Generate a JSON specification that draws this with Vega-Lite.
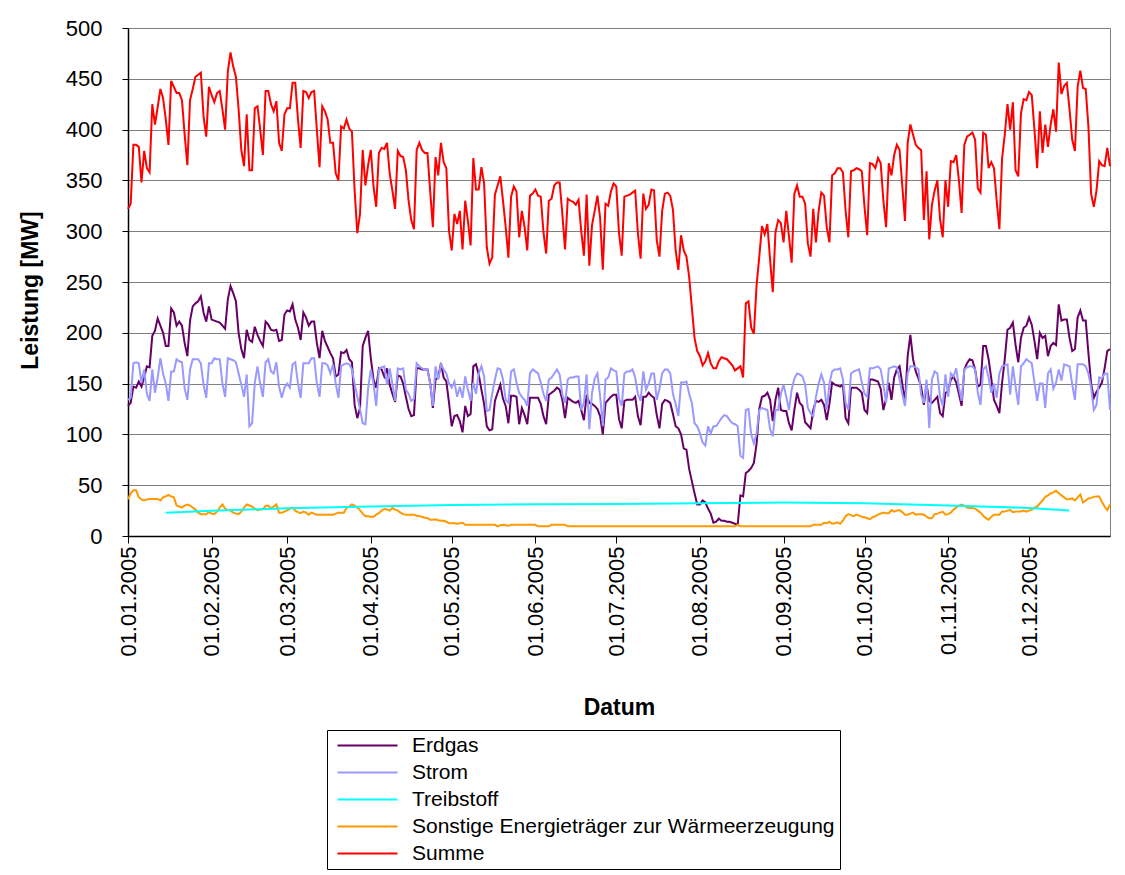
{
"$schema":"https://vega.github.io/schema/vega-lite/v6.json",
"width":982,"height":508,
"autosize":"none",
"padding":{"left":128,"top":28,"right":15,"bottom":339},
"background":"white",
"data":{"values":[
{"t":"2005-01-01","E":128,"S":134,"O":36,"M":322},
{"t":"2005-01-02","E":131,"S":136,"O":42,"M":327},
{"t":"2005-01-03","E":147,"S":170,"O":45,"M":385},
{"t":"2005-01-04","E":146,"S":171,"O":45,"M":385},
{"t":"2005-01-05","E":152,"S":170,"O":38,"M":383},
{"t":"2005-01-06","E":147,"S":151,"O":36,"M":348},
{"t":"2005-01-07","E":156,"S":164,"O":35,"M":379},
{"t":"2005-01-08","E":167,"S":140,"O":36,"M":362},
{"t":"2005-01-09","E":166,"S":133,"O":36.5,"M":358},
{"t":"2005-01-10","E":197,"S":164,"O":36.5,"M":425},
{"t":"2005-01-11","E":202,"S":141,"O":36.5,"M":405},
{"t":"2005-01-12","E":214,"S":156,"O":36.5,"M":422},
{"t":"2005-01-13","E":207,"S":175,"O":35,"M":440},
{"t":"2005-01-14","E":200,"S":160,"O":38,"M":431},
{"t":"2005-01-15","E":187,"S":150,"O":39,"M":410,"T":23},
{"t":"2005-01-16","E":187,"S":133,"O":40.5,"M":385},
{"t":"2005-01-17","E":224,"S":162,"O":39,"M":448},
{"t":"2005-01-18","E":220,"S":162,"O":38,"M":442},
{"t":"2005-01-19","E":207,"S":174,"O":30,"M":436},
{"t":"2005-01-20","E":211,"S":172,"O":29,"M":436},
{"t":"2005-01-21","E":207,"S":171,"O":28,"M":429},
{"t":"2005-01-22","E":190,"S":145,"O":30,"M":395},
{"t":"2005-01-23","E":177,"S":134,"O":31,"M":365},
{"t":"2005-01-24","E":212,"S":164,"O":30,"M":429},
{"t":"2005-01-25","E":226,"S":174,"O":28,"M":440},
{"t":"2005-01-26","E":229,"S":174,"O":26,"M":452},
{"t":"2005-01-27","E":231,"S":174,"O":23,"M":454},
{"t":"2005-01-28","E":236,"S":170,"O":21.5,"M":456},
{"t":"2005-01-29","E":220,"S":149,"O":21.5,"M":413},
{"t":"2005-01-30","E":211,"S":136,"O":21.5,"M":393},
{"t":"2005-01-31","E":226,"S":170,"O":23.5,"M":442},
{"t":"2005-02-01","E":213,"S":170,"O":22,"M":434,"T":24.8},
{"t":"2005-02-02","E":212,"S":175,"O":21.5,"M":427},
{"t":"2005-02-03","E":211,"S":174,"O":24,"M":436},
{"t":"2005-02-04","E":210,"S":174,"O":28,"M":438},
{"t":"2005-02-05","E":207,"S":150,"O":31,"M":420},
{"t":"2005-02-06","E":204,"S":137,"O":27,"M":400},
{"t":"2005-02-07","E":233,"S":175,"O":25.5,"M":457},
{"t":"2005-02-08","E":246,"S":174,"O":25,"M":476},
{"t":"2005-02-09","E":239,"S":173,"O":23,"M":462},
{"t":"2005-02-10","E":231,"S":171,"O":22,"M":452},
{"t":"2005-02-11","E":200,"S":160,"O":21.5,"M":420},
{"t":"2005-02-12","E":184,"S":149,"O":24,"M":380},
{"t":"2005-02-13","E":175,"S":137,"O":28,"M":364},
{"t":"2005-02-14","E":203,"S":159,"O":31,"M":415},
{"t":"2005-02-15","E":193,"S":108,"O":30,"M":360},
{"t":"2005-02-16","E":191,"S":111,"O":29,"M":360},
{"t":"2005-02-17","E":206,"S":151,"O":27,"M":421},
{"t":"2005-02-18","E":198,"S":167,"O":25.5,"M":423},
{"t":"2005-02-19","E":192,"S":150,"O":26,"M":400},
{"t":"2005-02-20","E":187,"S":137,"O":26.5,"M":375},
{"t":"2005-02-21","E":211,"S":171,"O":29.5,"M":438},
{"t":"2005-02-22","E":208,"S":174,"O":30,"M":438},
{"t":"2005-02-23","E":203,"S":162,"O":27,"M":425},
{"t":"2005-02-24","E":202,"S":160,"O":29,"M":418},
{"t":"2005-02-25","E":203,"S":171,"O":31,"M":428},
{"t":"2005-02-26","E":192,"S":147,"O":23,"M":387},
{"t":"2005-02-27","E":193,"S":136,"O":23,"M":379},
{"t":"2005-02-28","E":218,"S":146,"O":24,"M":415},
{"t":"2005-03-01","E":222,"S":150,"O":25.5,"M":421,"T":27.2},
{"t":"2005-03-02","E":221,"S":146,"O":26.5,"M":421},
{"t":"2005-03-03","E":228,"S":169,"O":28,"M":446},
{"t":"2005-03-04","E":213,"S":171,"O":25,"M":446},
{"t":"2005-03-05","E":205,"S":150,"O":23.5,"M":410},
{"t":"2005-03-06","E":193,"S":136,"O":22.5,"M":382},
{"t":"2005-03-07","E":220,"S":170,"O":24,"M":438},
{"t":"2005-03-08","E":215,"S":170,"O":23,"M":437},
{"t":"2005-03-09","E":207,"S":170,"O":21,"M":431},
{"t":"2005-03-10","E":211,"S":175,"O":23,"M":437},
{"t":"2005-03-11","E":211,"S":175,"O":22,"M":438},
{"t":"2005-03-12","E":190,"S":150,"O":21,"M":400},
{"t":"2005-03-13","E":175,"S":137,"O":21,"M":363},
{"t":"2005-03-14","E":202,"S":170,"O":21,"M":423},
{"t":"2005-03-15","E":192,"S":170,"O":21,"M":418},
{"t":"2005-03-16","E":186,"S":168,"O":21,"M":410},
{"t":"2005-03-17","E":180,"S":160,"O":21,"M":387},
{"t":"2005-03-18","E":175,"S":169,"O":21,"M":387},
{"t":"2005-03-19","E":157,"S":150,"O":22,"M":357},
{"t":"2005-03-20","E":159,"S":136,"O":23,"M":350},
{"t":"2005-03-21","E":181,"S":167,"O":23,"M":403},
{"t":"2005-03-22","E":180,"S":169,"O":23,"M":401},
{"t":"2005-03-23","E":183,"S":170,"O":27.5,"M":410},
{"t":"2005-03-24","E":174,"S":169,"O":29,"M":401},
{"t":"2005-03-25","E":171,"S":164,"O":31,"M":398},
{"t":"2005-03-26","E":129,"S":150,"O":30,"M":340},
{"t":"2005-03-27","E":116,"S":137,"O":28,"M":298},
{"t":"2005-03-28","E":126,"S":125,"O":25.5,"M":317},
{"t":"2005-03-29","E":187,"S":111,"O":22,"M":380},
{"t":"2005-03-30","E":195,"S":110,"O":19.5,"M":345},
{"t":"2005-03-31","E":202,"S":145,"O":19.5,"M":365},
{"t":"2005-04-01","E":175,"S":164,"O":19,"M":380,"T":29},
{"t":"2005-04-02","E":154,"S":150,"O":19,"M":344},
{"t":"2005-04-03","E":146,"S":128,"O":21,"M":324},
{"t":"2005-04-04","E":165,"S":164,"O":22.5,"M":377},
{"t":"2005-04-05","E":164,"S":166,"O":25,"M":382},
{"t":"2005-04-06","E":157,"S":167,"O":26.5,"M":381},
{"t":"2005-04-07","E":165,"S":149,"O":26,"M":387},
{"t":"2005-04-08","E":149,"S":165,"O":25,"M":357},
{"t":"2005-04-09","E":140,"S":150,"O":27.5,"M":340},
{"t":"2005-04-10","E":132,"S":133,"O":26,"M":322},
{"t":"2005-04-11","E":158,"S":165,"O":25,"M":379},
{"t":"2005-04-12","E":157,"S":164,"O":23,"M":374},
{"t":"2005-04-13","E":150,"S":165,"O":21.5,"M":373},
{"t":"2005-04-14","E":137,"S":144,"O":21,"M":360},
{"t":"2005-04-15","E":125,"S":140,"O":21,"M":330},
{"t":"2005-04-16","E":118,"S":133,"O":21,"M":311},
{"t":"2005-04-17","E":119,"S":135,"O":21,"M":302},
{"t":"2005-04-18","E":165,"S":170,"O":20,"M":380},
{"t":"2005-04-19","E":165,"S":167,"O":19.5,"M":387},
{"t":"2005-04-20","E":164,"S":165,"O":19,"M":380},
{"t":"2005-04-21","E":164,"S":164,"O":18,"M":377},
{"t":"2005-04-22","E":164,"S":164,"O":17.5,"M":377},
{"t":"2005-04-23","E":151,"S":150,"O":16,"M":340},
{"t":"2005-04-24","E":126,"S":128,"O":16,"M":304},
{"t":"2005-04-25","E":154,"S":167,"O":16.5,"M":373},
{"t":"2005-04-26","E":156,"S":154,"O":15.5,"M":355},
{"t":"2005-04-27","E":170,"S":169,"O":15,"M":387},
{"t":"2005-04-28","E":156,"S":164,"O":15,"M":368},
{"t":"2005-04-29","E":152,"S":160,"O":14,"M":362},
{"t":"2005-04-30","E":131,"S":150,"O":12.5,"M":300},
{"t":"2005-05-01","E":108,"S":146,"O":12.5,"M":281,"T":30.5},
{"t":"2005-05-02","E":118,"S":152,"O":12.5,"M":317},
{"t":"2005-05-03","E":119,"S":137,"O":12,"M":307},
{"t":"2005-05-04","E":113,"S":147,"O":12.5,"M":320},
{"t":"2005-05-05","E":102,"S":136,"O":13,"M":282},
{"t":"2005-05-06","E":128,"S":157,"O":11,"M":330},
{"t":"2005-05-07","E":118,"S":144,"O":11,"M":310},
{"t":"2005-05-08","E":120,"S":133,"O":11,"M":286},
{"t":"2005-05-09","E":167,"S":151,"O":11,"M":372},
{"t":"2005-05-10","E":169,"S":140,"O":11,"M":341},
{"t":"2005-05-11","E":159,"S":160,"O":11,"M":341},
{"t":"2005-05-12","E":144,"S":167,"O":11,"M":363},
{"t":"2005-05-13","E":130,"S":157,"O":11,"M":347},
{"t":"2005-05-14","E":108,"S":123,"O":11,"M":284},
{"t":"2005-05-15","E":104,"S":124,"O":11,"M":268},
{"t":"2005-05-16","E":105,"S":140,"O":11,"M":274},
{"t":"2005-05-17","E":133,"S":154,"O":11,"M":336},
{"t":"2005-05-18","E":141,"S":165,"O":9.5,"M":345},
{"t":"2005-05-19","E":149,"S":164,"O":10.5,"M":354},
{"t":"2005-05-20","E":135,"S":154,"O":11,"M":330},
{"t":"2005-05-21","E":128,"S":134,"O":10.5,"M":304},
{"t":"2005-05-22","E":111,"S":131,"O":10,"M":274},
{"t":"2005-05-23","E":138,"S":162,"O":11,"M":334},
{"t":"2005-05-24","E":138,"S":164,"O":11,"M":344},
{"t":"2005-05-25","E":137,"S":151,"O":11,"M":339},
{"t":"2005-05-26","E":110,"S":141,"O":11,"M":294},
{"t":"2005-05-27","E":126,"S":137,"O":11,"M":320},
{"t":"2005-05-28","E":119,"S":134,"O":11,"M":304},
{"t":"2005-05-29","E":110,"S":128,"O":11,"M":281},
{"t":"2005-05-30","E":136,"S":160,"O":11,"M":335},
{"t":"2005-05-31","E":136,"S":164,"O":11,"M":337},
{"t":"2005-06-01","E":136,"S":162,"O":11,"M":341,"T":31.2},
{"t":"2005-06-02","E":136,"S":160,"O":9.5,"M":335},
{"t":"2005-06-03","E":130,"S":151,"O":9.5,"M":334},
{"t":"2005-06-04","E":118,"S":140,"O":9.5,"M":299},
{"t":"2005-06-05","E":110,"S":133,"O":9.5,"M":278},
{"t":"2005-06-06","E":139,"S":154,"O":9.5,"M":330},
{"t":"2005-06-07","E":141,"S":156,"O":11,"M":332},
{"t":"2005-06-08","E":143,"S":160,"O":11,"M":345},
{"t":"2005-06-09","E":146,"S":164,"O":11,"M":348},
{"t":"2005-06-10","E":144,"S":159,"O":11,"M":348},
{"t":"2005-06-11","E":134,"S":139,"O":11,"M":317},
{"t":"2005-06-12","E":116,"S":131,"O":11,"M":282},
{"t":"2005-06-13","E":136,"S":154,"O":9.5,"M":332},
{"t":"2005-06-14","E":134,"S":156,"O":9.5,"M":330},
{"t":"2005-06-15","E":132,"S":156,"O":9.5,"M":329},
{"t":"2005-06-16","E":131,"S":157,"O":9.5,"M":326},
{"t":"2005-06-17","E":133,"S":157,"O":9.5,"M":331},
{"t":"2005-06-18","E":124,"S":124,"O":9.5,"M":300},
{"t":"2005-06-19","E":114,"S":131,"O":9.5,"M":276},
{"t":"2005-06-20","E":139,"S":159,"O":9.5,"M":336},
{"t":"2005-06-21","E":131,"S":105,"O":9.5,"M":266},
{"t":"2005-06-22","E":130,"S":141,"O":9.5,"M":306},
{"t":"2005-06-23","E":128,"S":155,"O":9.5,"M":320},
{"t":"2005-06-24","E":125,"S":160,"O":9.5,"M":335},
{"t":"2005-06-25","E":118,"S":138,"O":9.5,"M":313},
{"t":"2005-06-26","E":100,"S":108,"O":9.5,"M":262},
{"t":"2005-06-27","E":131,"S":154,"O":9.5,"M":327},
{"t":"2005-06-28","E":134,"S":156,"O":9.5,"M":325},
{"t":"2005-06-29","E":137,"S":165,"O":9.5,"M":339},
{"t":"2005-06-30","E":139,"S":163,"O":9.5,"M":347},
{"t":"2005-07-01","E":139,"S":162,"O":9.5,"M":344,"T":31.6},
{"t":"2005-07-02","E":115,"S":135,"O":9.5,"M":298},
{"t":"2005-07-03","E":106,"S":128,"O":9.5,"M":276},
{"t":"2005-07-04","E":133,"S":160,"O":9.5,"M":334},
{"t":"2005-07-05","E":134,"S":162,"O":9.5,"M":335},
{"t":"2005-07-06","E":134,"S":162,"O":9.5,"M":336},
{"t":"2005-07-07","E":134,"S":164,"O":9.5,"M":338},
{"t":"2005-07-08","E":137,"S":156,"O":9.5,"M":340},
{"t":"2005-07-09","E":118,"S":140,"O":9.5,"M":298},
{"t":"2005-07-10","E":109,"S":133,"O":9.5,"M":273},
{"t":"2005-07-11","E":137,"S":162,"O":9.5,"M":337},
{"t":"2005-07-12","E":137,"S":144,"O":9.5,"M":322},
{"t":"2005-07-13","E":141,"S":150,"O":9.5,"M":326},
{"t":"2005-07-14","E":138,"S":160,"O":9.5,"M":341},
{"t":"2005-07-15","E":136,"S":160,"O":9.5,"M":340},
{"t":"2005-07-16","E":119,"S":134,"O":9.5,"M":291},
{"t":"2005-07-17","E":106,"S":145,"O":9.5,"M":275},
{"t":"2005-07-18","E":130,"S":160,"O":9.5,"M":320},
{"t":"2005-07-19","E":134,"S":164,"O":9.5,"M":337},
{"t":"2005-07-20","E":133,"S":164,"O":9.5,"M":338},
{"t":"2005-07-21","E":131,"S":160,"O":9.5,"M":335},
{"t":"2005-07-22","E":120,"S":140,"O":9.5,"M":321},
{"t":"2005-07-23","E":108,"S":130,"O":9.5,"M":281},
{"t":"2005-07-24","E":106,"S":118,"O":9.5,"M":262},
{"t":"2005-07-25","E":100,"S":151,"O":9.5,"M":296},
{"t":"2005-07-26","E":86,"S":151,"O":9.5,"M":281},
{"t":"2005-07-27","E":85,"S":152,"O":9.5,"M":275},
{"t":"2005-07-28","E":66,"S":140,"O":9.5,"M":255},
{"t":"2005-07-29","E":54,"S":131,"O":9.5,"M":225},
{"t":"2005-07-30","E":42,"S":111,"O":9.5,"M":195},
{"t":"2005-07-31","E":31,"S":108,"O":9.5,"M":182},
{"t":"2005-08-01","E":31,"S":101,"O":9.5,"M":177,"T":32.3},
{"t":"2005-08-02","E":35,"S":92,"O":9.5,"M":168},
{"t":"2005-08-03","E":33,"S":89,"O":9.5,"M":172},
{"t":"2005-08-04","E":27,"S":108,"O":9.5,"M":180},
{"t":"2005-08-05","E":22,"S":101,"O":9.5,"M":170},
{"t":"2005-08-06","E":13,"S":108,"O":9.5,"M":165},
{"t":"2005-08-07","E":14,"S":108,"O":9.5,"M":165},
{"t":"2005-08-08","E":17,"S":112,"O":9.5,"M":172},
{"t":"2005-08-09","E":15,"S":116,"O":9.5,"M":176},
{"t":"2005-08-10","E":15,"S":119,"O":9.5,"M":175},
{"t":"2005-08-11","E":14,"S":118,"O":9.5,"M":174},
{"t":"2005-08-12","E":14,"S":114,"O":9.5,"M":171},
{"t":"2005-08-13","E":13,"S":111,"O":9.5,"M":168},
{"t":"2005-08-14","E":12,"S":110,"O":9.5,"M":163},
{"t":"2005-08-15","E":11,"S":108,"O":11,"M":165},
{"t":"2005-08-16","E":40,"S":79,"O":9.5,"M":167},
{"t":"2005-08-17","E":39,"S":77,"O":9.5,"M":156},
{"t":"2005-08-18","E":62,"S":124,"O":9.5,"M":229},
{"t":"2005-08-19","E":64,"S":125,"O":9.5,"M":231},
{"t":"2005-08-20","E":67,"S":100,"O":9.5,"M":205},
{"t":"2005-08-21","E":72,"S":91,"O":9.5,"M":199},
{"t":"2005-08-22","E":91,"S":101,"O":9.5,"M":247},
{"t":"2005-08-23","E":125,"S":124,"O":9.5,"M":275},
{"t":"2005-08-24","E":137,"S":126,"O":9.5,"M":305},
{"t":"2005-08-25","E":138,"S":125,"O":9.5,"M":297},
{"t":"2005-08-26","E":141,"S":124,"O":9.5,"M":307},
{"t":"2005-08-27","E":134,"S":105,"O":9.5,"M":272},
{"t":"2005-08-28","E":113,"S":98,"O":9.5,"M":240},
{"t":"2005-08-29","E":134,"S":124,"O":9.5,"M":299},
{"t":"2005-08-30","E":146,"S":124,"O":9.5,"M":311},
{"t":"2005-08-31","E":124,"S":140,"O":9.5,"M":308},
{"t":"2005-09-01","E":123,"S":149,"O":9.5,"M":289,"T":32.9},
{"t":"2005-09-02","E":123,"S":137,"O":9.5,"M":320},
{"t":"2005-09-03","E":111,"S":124,"O":9.5,"M":295},
{"t":"2005-09-04","E":104,"S":144,"O":9.5,"M":269},
{"t":"2005-09-05","E":124,"S":155,"O":9.5,"M":337},
{"t":"2005-09-06","E":141,"S":160,"O":9.5,"M":345},
{"t":"2005-09-07","E":131,"S":159,"O":9.5,"M":334},
{"t":"2005-09-08","E":128,"S":157,"O":9.5,"M":334},
{"t":"2005-09-09","E":112,"S":149,"O":9.5,"M":327},
{"t":"2005-09-10","E":109,"S":126,"O":9.5,"M":288},
{"t":"2005-09-11","E":106,"S":121,"O":9.5,"M":275},
{"t":"2005-09-12","E":124,"S":118,"O":11,"M":322},
{"t":"2005-09-13","E":133,"S":137,"O":11,"M":289},
{"t":"2005-09-14","E":132,"S":150,"O":11,"M":320},
{"t":"2005-09-15","E":134,"S":159,"O":11,"M":338},
{"t":"2005-09-16","E":129,"S":151,"O":13,"M":335},
{"t":"2005-09-17","E":114,"S":124,"O":12.5,"M":304},
{"t":"2005-09-18","E":130,"S":150,"O":14,"M":289},
{"t":"2005-09-19","E":151,"S":162,"O":12,"M":355},
{"t":"2005-09-20","E":149,"S":164,"O":12.5,"M":357},
{"t":"2005-09-21","E":148,"S":164,"O":13.5,"M":362},
{"t":"2005-09-22","E":147,"S":165,"O":12,"M":362},
{"t":"2005-09-23","E":149,"S":154,"O":15,"M":358},
{"t":"2005-09-24","E":116,"S":131,"O":19.5,"M":320},
{"t":"2005-09-25","E":111,"S":124,"O":21.5,"M":294},
{"t":"2005-09-26","E":146,"S":160,"O":20.5,"M":359},
{"t":"2005-09-27","E":146,"S":162,"O":19.5,"M":360},
{"t":"2005-09-28","E":146,"S":163,"O":21,"M":362},
{"t":"2005-09-29","E":144,"S":164,"O":20,"M":361},
{"t":"2005-09-30","E":141,"S":151,"O":19,"M":359},
{"t":"2005-10-01","E":124,"S":140,"O":18.5,"M":324,"T":32.3},
{"t":"2005-10-02","E":121,"S":137,"O":17.5,"M":296},
{"t":"2005-10-03","E":154,"S":165,"O":16.5,"M":367},
{"t":"2005-10-04","E":154,"S":165,"O":18.5,"M":366},
{"t":"2005-10-05","E":153,"S":166,"O":19.5,"M":362},
{"t":"2005-10-06","E":152,"S":167,"O":21,"M":372},
{"t":"2005-10-07","E":145,"S":164,"O":22,"M":367},
{"t":"2005-10-08","E":124,"S":149,"O":23,"M":330},
{"t":"2005-10-09","E":135,"S":131,"O":22.5,"M":304},
{"t":"2005-10-10","E":151,"S":165,"O":22.5,"M":367},
{"t":"2005-10-11","E":134,"S":166,"O":25.5,"M":355},
{"t":"2005-10-12","E":156,"S":167,"O":24,"M":375},
{"t":"2005-10-13","E":164,"S":166,"O":25,"M":385},
{"t":"2005-10-14","E":167,"S":154,"O":25.5,"M":380},
{"t":"2005-10-15","E":150,"S":140,"O":23.5,"M":345},
{"t":"2005-10-16","E":131,"S":128,"O":21,"M":310},
{"t":"2005-10-17","E":177,"S":160,"O":21,"M":387},
{"t":"2005-10-18","E":198,"S":167,"O":22,"M":405},
{"t":"2005-10-19","E":174,"S":167,"O":23,"M":395},
{"t":"2005-10-20","E":162,"S":166,"O":21,"M":385},
{"t":"2005-10-21","E":155,"S":164,"O":21.5,"M":382},
{"t":"2005-10-22","E":147,"S":139,"O":21.5,"M":380},
{"t":"2005-10-23","E":129,"S":131,"O":21,"M":311},
{"t":"2005-10-24","E":149,"S":154,"O":19,"M":359},
{"t":"2005-10-25","E":133,"S":106,"O":17.5,"M":292},
{"t":"2005-10-26","E":131,"S":154,"O":17.5,"M":326},
{"t":"2005-10-27","E":134,"S":162,"O":21.5,"M":340},
{"t":"2005-10-28","E":137,"S":160,"O":22,"M":350},
{"t":"2005-10-29","E":121,"S":137,"O":23,"M":312},
{"t":"2005-10-30","E":118,"S":128,"O":24,"M":294},
{"t":"2005-10-31","E":141,"S":159,"O":21,"M":350},
{"t":"2005-11-01","E":142,"S":137,"O":21.5,"M":324,"T":30},
{"t":"2005-11-02","E":154,"S":160,"O":23,"M":369},
{"t":"2005-11-03","E":157,"S":157,"O":26,"M":368},
{"t":"2005-11-04","E":151,"S":165,"O":28,"M":375},
{"t":"2005-11-05","E":140,"S":146,"O":30,"M":350},
{"t":"2005-11-06","E":128,"S":133,"O":31,"M":318},
{"t":"2005-11-07","E":164,"S":164,"O":30,"M":385},
{"t":"2005-11-08","E":170,"S":166,"O":28,"M":393},
{"t":"2005-11-09","E":174,"S":167,"O":27.5,"M":395},
{"t":"2005-11-10","E":173,"S":167,"O":27.5,"M":397},
{"t":"2005-11-11","E":164,"S":164,"O":27,"M":390},
{"t":"2005-11-12","E":147,"S":141,"O":25,"M":342},
{"t":"2005-11-13","E":149,"S":129,"O":23,"M":338},
{"t":"2005-11-14","E":187,"S":164,"O":20,"M":397},
{"t":"2005-11-15","E":187,"S":167,"O":17.5,"M":395},
{"t":"2005-11-16","E":174,"S":156,"O":16,"M":362},
{"t":"2005-11-17","E":155,"S":141,"O":19,"M":368},
{"t":"2005-11-18","E":134,"S":150,"O":21,"M":362},
{"t":"2005-11-19","E":128,"S":136,"O":21,"M":330},
{"t":"2005-11-20","E":121,"S":160,"O":21,"M":302},
{"t":"2005-11-21","E":151,"S":167,"O":24,"M":372},
{"t":"2005-11-22","E":174,"S":168,"O":24,"M":395},
{"t":"2005-11-23","E":203,"S":169,"O":25,"M":425},
{"t":"2005-11-24","E":205,"S":139,"O":25.5,"M":400},
{"t":"2005-11-25","E":210,"S":167,"O":23.5,"M":427},
{"t":"2005-11-26","E":188,"S":147,"O":24,"M":360},
{"t":"2005-11-27","E":171,"S":129,"O":24,"M":354},
{"t":"2005-11-28","E":195,"S":167,"O":24,"M":416},
{"t":"2005-11-29","E":205,"S":170,"O":25,"M":430},
{"t":"2005-11-30","E":207,"S":174,"O":24,"M":429},
{"t":"2005-12-01","E":215,"S":172,"O":25,"M":437,"T":27.6},
{"t":"2005-12-02","E":208,"S":170,"O":26,"M":434},
{"t":"2005-12-03","E":192,"S":151,"O":28,"M":400},
{"t":"2005-12-04","E":174,"S":133,"O":29,"M":362},
{"t":"2005-12-05","E":200,"S":150,"O":32,"M":418},
{"t":"2005-12-06","E":195,"S":150,"O":35,"M":377},
{"t":"2005-12-07","E":197,"S":126,"O":38.5,"M":405},
{"t":"2005-12-08","E":177,"S":160,"O":40,"M":383},
{"t":"2005-12-09","E":187,"S":164,"O":42,"M":405},
{"t":"2005-12-10","E":190,"S":145,"O":43,"M":420},
{"t":"2005-12-11","E":188,"S":151,"O":44.5,"M":398},
{"t":"2005-12-12","E":228,"S":164,"O":42,"M":466},
{"t":"2005-12-13","E":212,"S":153,"O":40,"M":435},
{"t":"2005-12-14","E":213,"S":169,"O":38,"M":443},
{"t":"2005-12-15","E":213,"S":168,"O":36,"M":446},
{"t":"2005-12-16","E":195,"S":167,"O":36.5,"M":420,"T":25.2},
{"t":"2005-12-17","E":182,"S":149,"O":37,"M":390},
{"t":"2005-12-18","E":184,"S":134,"O":35,"M":379},
{"t":"2005-12-19","E":215,"S":169,"O":38,"M":442},
{"t":"2005-12-20","E":222,"S":169,"O":41,"M":458},
{"t":"2005-12-21","E":212,"S":169,"O":33,"M":441},
{"t":"2005-12-22","E":212,"S":167,"O":35,"M":440},
{"t":"2005-12-23","E":180,"S":160,"O":37,"M":403},
{"t":"2005-12-24","E":150,"S":146,"O":37.5,"M":337},
{"t":"2005-12-25","E":136,"S":124,"O":38.5,"M":324},
{"t":"2005-12-26","E":142,"S":129,"O":39,"M":340},
{"t":"2005-12-27","E":146,"S":156,"O":39,"M":369},
{"t":"2005-12-28","E":151,"S":155,"O":33.5,"M":365},
{"t":"2005-12-29","E":165,"S":160,"O":29,"M":364},
{"t":"2005-12-30","E":182,"S":160,"O":25.5,"M":382},
{"t":"2005-12-31","E":184,"S":124,"O":31,"M":364}
]},
"transform":[
{"fold":["E","S","T","O","M"],"as":["k","v"]},
{"filter":"isValid(datum.v)"}
],
"mark":{"type":"line","strokeWidth":2},
"encoding":{
"x":{"field":"t","type":"temporal",
"scale":{"type":"utc","domain":[{"year":2005,"month":1,"date":1,"utc":true},{"year":2005,"month":12,"date":31,"utc":true}]},
"axis":{"values":[
{"year":2005,"month":1,"date":1,"utc":true},{"year":2005,"month":2,"date":1,"utc":true},{"year":2005,"month":3,"date":1,"utc":true},{"year":2005,"month":4,"date":1,"utc":true},{"year":2005,"month":5,"date":1,"utc":true},{"year":2005,"month":6,"date":1,"utc":true},{"year":2005,"month":7,"date":1,"utc":true},{"year":2005,"month":8,"date":1,"utc":true},{"year":2005,"month":9,"date":1,"utc":true},{"year":2005,"month":10,"date":1,"utc":true},{"year":2005,"month":11,"date":1,"utc":true},{"year":2005,"month":12,"date":1,"utc":true}],
"format":"%d.%m.%Y","labelAngle":270,"labelFontSize":22,"labelPadding":3,"tickSize":7,"grid":false,
"labelOverlap":false,"labelFlush":false,
"title":"Datum","titleFontSize":23,"titleFontWeight":"bold","titleY":171,"titleBaseline":"middle"}},
"y":{"field":"v","type":"quantitative","scale":{"domain":[0,500],"nice":false},
"axis":{"values":[0,50,100,150,200,250,300,350,400,450,500],"labelFontSize":22,"tickSize":6,"labelPadding":20,
"grid":true,"gridColor":"#808080","gridWidth":1,
"title":"Leistung [MW]","titleFontSize":23,"titleFontWeight":"bold","titleX":-98,"titleY":262,"titleBaseline":"middle","titleAngle":270}},
"color":{"field":"k","type":"nominal",
"scale":{"domain":["E","S","T","O","M"],"range":["#660066","#9999FF","#00FFFF","#FF9900","#FF0000"]},
"legend":{"title":null,"orient":"none","legendX":199,"legendY":702,"strokeColor":"black","fillColor":"white","padding":5,
"symbolType":"M-1,0H11","symbolSize":100,"symbolStrokeWidth":2,"labelFontSize":21,"labelOffset":59,"rowPadding":5,"labelLimit":700,
"labelExpr":"datum.label=='E'?'Erdgas':datum.label=='S'?'Strom':datum.label=='T'?'Treibstoff':datum.label=='O'?'Sonstige Energieträger zur Wärmeerzeugung':'Summe'"}}
},
"config":{
"view":{"stroke":"#808080","strokeWidth":1},
"font":"Liberation Sans",
"axis":{"labelFont":"Liberation Sans","titleFont":"Liberation Sans","labelColor":"black","titleColor":"black","domainColor":"black","tickColor":"black","domainWidth":1.5},
"legend":{"labelFont":"Liberation Sans","labelColor":"black"}
}
}
